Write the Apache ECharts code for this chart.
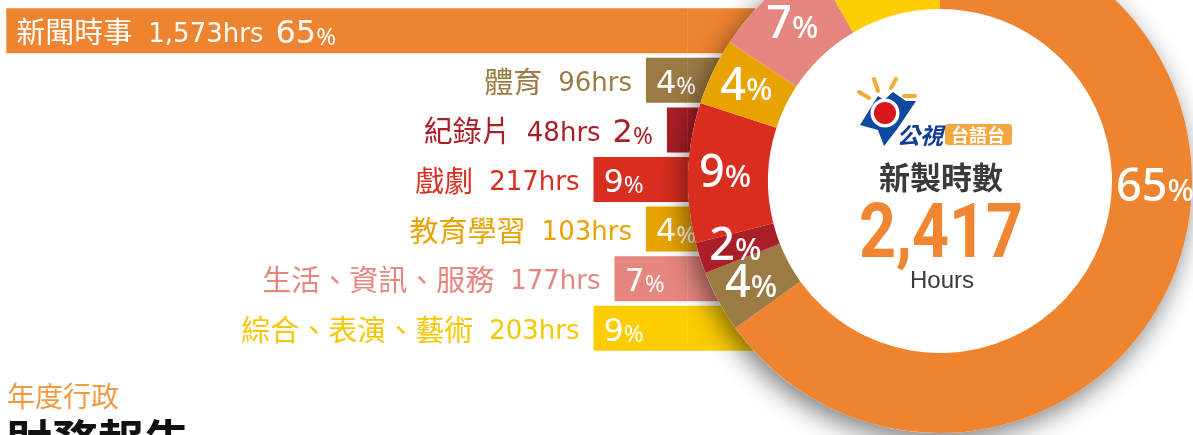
<!DOCTYPE html>
<html>
<head>
<meta charset="utf-8">
<script src="https://cdn.jsdelivr.net/npm/echarts@6/dist/echarts.min.js"></script>
<style>
html, body { margin: 0; padding: 0; background: #fff; }
#main { width: 1193px; height: 435px; }
</style>
</head>
<body>
<div id="main"></div>
<script>
var names = ['新聞時事', '體育', '紀錄片', '戲劇', '教育學習', '生活、資訊、服務', '綜合、表演、藝術'];
var hours = [1573, 96, 48, 217, 103, 177, 203];
var shares = [65, 4, 2, 9, 4, 7, 9];
var totalHours = 2417;

var colors = ['#EF8430', '#9C7A44', '#AA1E27', '#D92D20', '#E8A300', '#E5867F', '#FDCD00'];
var textColors = ['#ffffff', '#9C7A44', '#AA1E27', '#D92D20', '#E8A300', '#E5867F', '#F7C600'];

// part of each bar that slides under the ring
var HIDDEN = 6.4;

var latin = "'DejaVu Sans', 'Noto Sans CJK TC', sans-serif";
var cjk = "'Noto Sans CJK TC', sans-serif";
var pctFont = "'Noto Sans', sans-serif";

var rowRich = {
    n: {fontFamily: cjk, fontSize: 29, verticalAlign: 'middle', padding: [0, 16, 5, 0]},
    h: {fontFamily: latin, fontSize: 26, verticalAlign: 'middle'},
    g: {fontFamily: latin, fontSize: 26, verticalAlign: 'middle', padding: [0, 12, 0, 0]},
    p: {fontFamily: latin, fontSize: 32, verticalAlign: 'middle'},
    s: {fontFamily: pctFont, fontSize: 24, verticalAlign: 'middle', padding: [6, 0, 0, 0]}
};

function fmtHours(i) {
    return hours[i].toLocaleString('en-US') + 'hrs';
}

var myChart = echarts.init(document.getElementById('main'));

var option = {
    animation: false,
    grid: {left: 0, right: 438, top: 6, bottom: 82},
    xAxis: {type: 'value', inverse: true, min: 0, max: 72, show: false},
    yAxis: {type: 'category', inverse: true, data: names, show: false},
    series: [
        {
            name: 'hidden',
            type: 'bar',
            stack: 'row',
            barWidth: 45,
            z: 1,
            itemStyle: {color: function (p) { return colors[p.dataIndex]; }},
            data: names.map(function () { return HIDDEN; })
        },
        {
            name: 'share',
            type: 'bar',
            stack: 'row',
            barWidth: 45,
            z: 1,
            itemStyle: {color: function (p) { return colors[p.dataIndex]; }},
            label: {
                show: true,
                position: 'insideLeft',
                distance: 10,
                offset: [0, 4],
                color: '#fff',
                rich: rowRich,
                formatter: function (p) {
                    var i = p.dataIndex;
                    if (shares[i] < 3) return '';
                    if (shares[i] > 50) {
                        return '{n|' + names[i] + '}{g|' + fmtHours(i) + '}{p|' + shares[i] + '}{s|%}';
                    }
                    return '{p|' + shares[i] + '}{s|%}';
                }
            },
            data: shares
        },
        {
            name: 'tag',
            type: 'bar',
            stack: 'row',
            barWidth: 45,
            z: 1,
            itemStyle: {color: 'rgba(0,0,0,0)'},
            label: {
                show: true,
                position: 'left',
                distance: 14,
                offset: [0, 4],
                rich: rowRich,
                formatter: function (p) {
                    var i = p.dataIndex;
                    if (shares[i] > 50) return '';
                    if (shares[i] < 3) {
                        return '{n|' + names[i] + '}{g|' + fmtHours(i) + '}{p|' + shares[i] + '}{s|%}';
                    }
                    return '{n|' + names[i] + '}{h|' + fmtHours(i) + '}';
                }
            },
            data: names.map(function (n, i) {
                return {value: 0, label: {color: textColors[i]}};
            })
        },
        {
            name: 'disc',
            type: 'pie',
            silent: true,
            z: 3,
            center: [940, 181],
            radius: [0, 252],
            label: {show: false},
            labelLine: {show: false},
            data: [{
                value: totalHours,
                itemStyle: {
                    color: '#ffffff',
                    shadowBlur: 26,
                    shadowColor: 'rgba(0,0,0,0.5)',
                    shadowOffsetX: -4,
                    shadowOffsetY: 8
                }
            }]
        },
        {
            name: '新製時數',
            type: 'pie',
            silent: true,
            z: 4,
            center: [940, 181],
            radius: [172, 252],
            startAngle: 90,
            clockwise: true,
            labelLine: {show: false},
            label: {
                show: true,
                position: 'inside',
                rotate: 0,
                color: '#fff',
                formatter: function (p) {
                    return '{n|' + shares[p.dataIndex] + '}{s|%}';
                },
                rich: {
                    n: {fontFamily: pctFont, fontSize: 45, fontWeight: 500, color: '#fff'},
                    s: {fontFamily: pctFont, fontSize: 31, fontWeight: 500, color: '#fff', padding: [8, 0, 0, 0]}
                }
            },
            labelLayout: function (p) {
                if (p.dataIndex === 0) {
                    return {x: 1155, y: 188, align: 'center', verticalAlign: 'middle'};
                }
            },
            data: names.map(function (n, i) {
                return {name: n, value: hours[i], itemStyle: {color: colors[i]}};
            })
        }
    ],
    graphic: [
        // logo
        {type: 'line', z: 10, shape: {x1: 859, y1: 92, x2: 869, y2: 98}, style: {stroke: '#F5A936', lineWidth: 4, lineCap: 'round'}},
        {type: 'line', z: 10, shape: {x1: 874, y1: 79, x2: 878, y2: 91}, style: {stroke: '#F5A936', lineWidth: 4, lineCap: 'round'}},
        {type: 'line', z: 10, shape: {x1: 896, y1: 79, x2: 891, y2: 88}, style: {stroke: '#F5A936', lineWidth: 4, lineCap: 'round'}},
        {type: 'line', z: 10, shape: {x1: 904, y1: 96, x2: 915, y2: 96}, style: {stroke: '#F5A936', lineWidth: 4, lineCap: 'round'}},
        {type: 'polygon', z: 10, shape: {points: [[860, 125], [878, 96], [884, 100], [893, 92], [906, 101], [916, 101], [898, 128], [884, 146], [878, 130]]}, style: {fill: '#0E4B9E'}},
        {type: 'circle', z: 11, shape: {cx: 885, cy: 113, r: 14.5}, style: {fill: '#ffffff'}},
        {type: 'circle', z: 12, shape: {cx: 885, cy: 113, r: 11}, style: {fill: '#D8161B'}},
        {type: 'text', z: 12, style: {x: 897, y: 135, text: '公視', fill: '#123F95', font: 'italic bold 23px "Noto Sans CJK TC"', verticalAlign: 'middle'}},
        {type: 'rect', z: 11, shape: {x: 945, y: 124, width: 67, height: 21, r: 3}, style: {fill: '#F4A640'}},
        {type: 'text', z: 12, style: {x: 978, y: 135, text: '台語台', fill: '#ffffff', font: 'bold 18px "Noto Sans CJK TC"', align: 'center', verticalAlign: 'middle'}},
        // centre figures
        {type: 'text', z: 12, style: {x: 941, y: 177, text: '新製時數', fill: '#3A3A3A', font: 'bold 31px "Noto Sans CJK TC"', align: 'center', verticalAlign: 'middle'}},
        {type: 'text', z: 12, x: 941, y: 238, scaleX: 0.85, style: {x: 0, y: 0, text: totalHours.toLocaleString('en-US'), fill: '#F08532', font: 'bold 76px Roboto, sans-serif', align: 'center', verticalAlign: 'middle'}},
        {type: 'text', z: 12, style: {x: 942, y: 281, text: 'Hours', fill: '#3A3A3A', font: '24px "Liberation Sans", Arial, sans-serif', align: 'center', verticalAlign: 'middle'}},
        // page heading
        {type: 'text', z: 12, style: {x: 7, y: 382, text: '年度行政', fill: '#F29A44', font: '28px "Noto Sans CJK TC"', verticalAlign: 'top'}},
        {type: 'text', z: 12, style: {x: 6, y: 418, text: '財務報告', fill: '#111111', font: 'bold 46px "Noto Sans CJK TC"', verticalAlign: 'top'}}
    ]
};

myChart.setOption(option);
window.addEventListener('resize', function () {
    myChart.resize();
});
</script>
</body>
</html>
